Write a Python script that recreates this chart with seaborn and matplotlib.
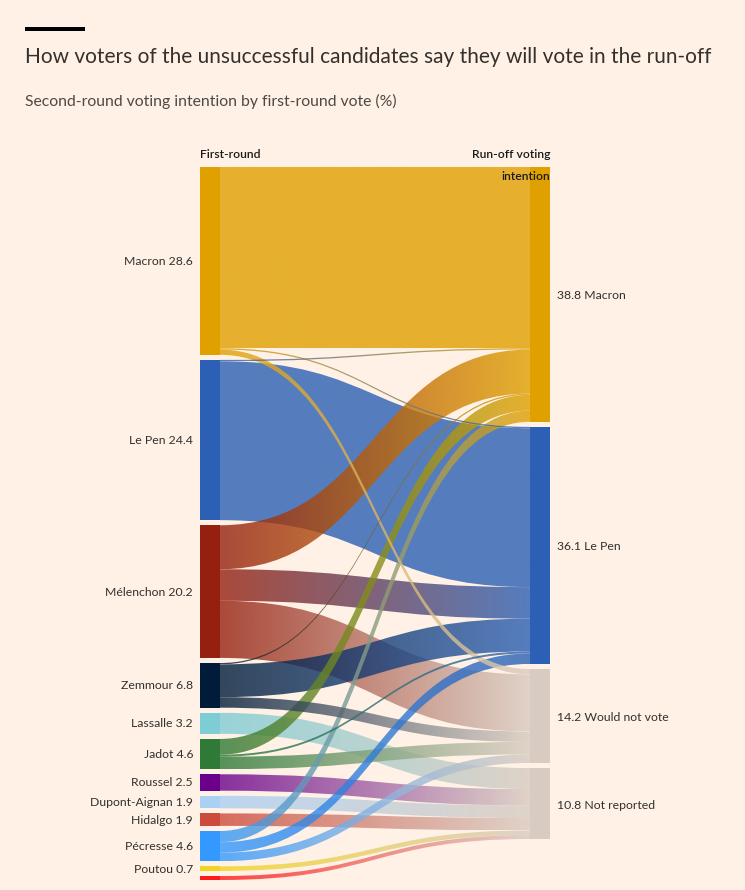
import numpy as np
import matplotlib
matplotlib.use("Agg")
import matplotlib.pyplot as plt
from matplotlib.path import Path
from matplotlib.patches import PathPatch, Rectangle
from matplotlib.colors import to_rgb
import seaborn as sns

# ---------------- data ----------------
first_round = ["Macron", "Le Pen", "Mélenchon", "Zemmour", "Lassalle", "Jadot",
               "Roussel", "Dupont-Aignan", "Hidalgo", "Pécresse", "Poutou", "Arthaud"]
first_round_pct = [28.6, 24.4, 20.2, 6.8, 3.2, 4.6, 2.5, 1.9, 1.9, 4.6, 0.7, 0.6]
first_round_labelled = [True] * 11 + [False]

runoff = ["Macron", "Le Pen", "Would not vote", "Not reported"]
runoff_pct = [38.8, 36.1, 14.2, 10.8]

# flows from each first-round candidate to each run-off option (% of all voters)
to_macron = [27.6, 0.2, 6.7, 0.2, 0.0, 2.4, 0.0, 0.0, 0.0, 1.7, 0.0, 0.0]
to_lepen = [0.2, 24.2, 4.8, 5.0, 0.0, 0.3, 0.0, 0.0, 0.0, 1.6, 0.0, 0.0]
to_wnv = [0.8, 0.0, 8.7, 1.6, 0.0, 1.9, 0.0, 0.0, 0.0, 1.3, 0.0, 0.0]
to_nr = [0.0, 0.0, 0.0, 0.0, 3.2, 0.0, 2.5, 1.9, 1.9, 0.0, 0.7, 0.6]

first_colors = ["#e0a000", "#2b60b4", "#95200f", "#001c3a", "#7ecdd5", "#2e7a36",
                "#6b008b", "#aad0f4", "#cc4b3c", "#3399ff", "#f2d41e", "#ff1a1a"]
runoff_colors = ["#e0a000", "#2b60b4", "#d8cbc1", "#d8cbc1"]

# ---------------- style ----------------
sns.set_theme(style="white", rc={"figure.facecolor": "#fff1e5", "axes.facecolor": "#fff1e5"})
plt.rcParams["font.family"] = ["Lato", "DejaVu Sans"]

BG = "#fff1e5"
W, H = 745, 890
fig = plt.figure(figsize=(W / 100, H / 100), dpi=100, facecolor=BG)
ax = fig.add_axes([0, 0, 1, 1])
ax.set_xlim(0, W)
ax.set_ylim(H, 0)
ax.axis("off")

flows = np.array([to_macron, to_lepen, to_wnv, to_nr]).T  # (12, 4)
src_tot = flows.sum(axis=1)
tgt_tot = flows.sum(axis=0)

# layout in pixels
TOP = 167
LEFT_BOTTOM, RIGHT_BOTTOM = 880, 839
XL0, XL1 = 200, 220
XR0, XR1 = 530, 550
nL, nR = len(first_round), len(runoff)
A = np.array([[src_tot.sum(), nL - 1], [tgt_tot.sum(), nR - 1]])
b = np.array([LEFT_BOTTOM - TOP, RIGHT_BOTTOM - TOP])
k, gap = np.linalg.solve(A, b)

src_y = []
y = TOP
for v in src_tot:
    src_y.append(y)
    y += v * k + gap
tgt_y = []
y = TOP
for v in tgt_tot:
    tgt_y.append(y)
    y += v * k + gap

# ---------------- links ----------------
src_pos = {}
cur = list(src_y)
for i in range(nL):
    for j in range(nR):
        if flows[i, j] > 0:
            src_pos[(i, j)] = cur[i]
            cur[i] += flows[i, j] * k
tgt_pos = {}
cur = list(tgt_y)
for j in range(nR):
    for i in range(nL):
        if flows[i, j] > 0:
            tgt_pos[(i, j)] = cur[j]
            cur[j] += flows[i, j] * k

# draw bigger links first so the thin ones sit on top
order = sorted(src_pos.keys(), key=lambda ij: -flows[ij])

xm = (XL1 + XR0) / 2
z = 2
for (i, j) in order:
    v = flows[i, j]
    h = v * k
    ys, yt = src_pos[(i, j)], tgt_pos[(i, j)]
    verts = [(XL1, ys), (xm, ys), (xm, yt), (XR0, yt),
             (XR0, yt + h), (xm, yt + h), (xm, ys + h), (XL1, ys + h), (XL1, ys)]
    codes = [Path.MOVETO, Path.CURVE4, Path.CURVE4, Path.CURVE4,
             Path.LINETO, Path.CURVE4, Path.CURVE4, Path.CURVE4, Path.CLOSEPOLY]
    patch = PathPatch(Path(verts, codes), facecolor="none", edgecolor="none")
    ax.add_patch(patch)
    c0 = np.array(to_rgb(first_colors[i]))
    c1 = np.array(to_rgb(runoff_colors[j]))
    t = np.linspace(0, 1, 256)[None, :, None]
    grad = np.concatenate([c0 * (1 - t) + c1 * t, np.full((1, 256, 1), 0.8)], axis=2)
    ymin, ymax = min(ys, yt), max(ys, yt) + h
    im = ax.imshow(grad, extent=[XL1, XR0, ymax, ymin], aspect="auto",
                   interpolation="bilinear", zorder=z)
    im.set_clip_path(patch)
    z += 0.01

ax.set_xlim(0, W)
ax.set_ylim(H, 0)

# ---------------- nodes ----------------
TXT = "#33302e"
LBL = 8.8
for i in range(nL):
    ax.add_patch(Rectangle((XL0, src_y[i]), XL1 - XL0, src_tot[i] * k,
                           facecolor=first_colors[i], edgecolor="none", zorder=5))
    if first_round_labelled[i]:
        ax.text(XL0 - 7, src_y[i] + src_tot[i] * k / 2 + 0.5,
                f"{first_round[i]} {first_round_pct[i]:.1f}",
                ha="right", va="center", fontsize=LBL, color=TXT, zorder=6)
for j in range(nR):
    ax.add_patch(Rectangle((XR0, tgt_y[j]), XR1 - XR0, tgt_tot[j] * k,
                           facecolor=runoff_colors[j], edgecolor="none", zorder=5))
    ax.text(XR1 + 7, tgt_y[j] + tgt_tot[j] * k / 2 + 1.5,
            f"{runoff_pct[j]:.1f} {runoff[j]}",
            ha="left", va="center", fontsize=LBL, color=TXT, zorder=6)

# column headers
ax.text(XL0, 155, "First-round", ha="left", va="center", fontsize=8.7,
        color="#1a1a1a", fontweight="semibold", zorder=7)
ax.text(XR1, 155, "Run-off voting", ha="right", va="center", fontsize=8.7,
        color="#1a1a1a", fontweight="semibold", zorder=7)
ax.text(XR1, 176, "intention", ha="right", va="center", fontsize=8.7,
        color="#1a1a1a", fontweight="semibold", zorder=7)

# title block
ax.add_patch(Rectangle((25, 26.5), 60, 4, facecolor="black", edgecolor="none", zorder=7))
ax.text(25, 57, "How voters of the unsuccessful candidates say they will vote in the run-off",
        ha="left", va="center", fontsize=15.0, color=TXT, zorder=7)
ax.text(25, 101, "Second-round voting intention by first-round vote (%)",
        ha="left", va="center", fontsize=11.3, color="#4d4845", zorder=7)

fig.savefig("out.png", dpi=100, facecolor=BG)
